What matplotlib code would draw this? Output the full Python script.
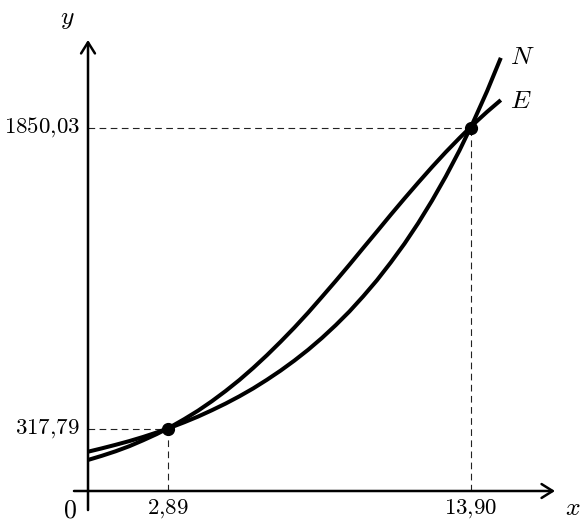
import numpy as np
import matplotlib
matplotlib.use("Agg")
import matplotlib.pyplot as plt

plt.rcParams['mathtext.fontset'] = 'cm'

# values
x_vals = [0, 0.5, 1, 1.5, 2, 2.5, 3, 3.5, 4, 4.5, 5, 5.5, 6, 6.5, 7, 7.5,
          8, 8.5, 9, 9.5, 10, 10.5, 11, 11.5, 12, 12.5, 13, 13.5, 14, 14.5, 15]
n_vals = [200, 217, 235, 254, 275, 298, 323, 350, 379, 411, 445, 482, 522, 566, 613, 664,
          719, 779, 844, 914, 991, 1073, 1163, 1259, 1364, 1478, 1601, 1734, 1879, 2035, 2205]
e_vals = [158, 179, 202, 228, 258, 290, 326, 366, 409, 457, 509, 565, 626, 691, 760, 832,
          908, 988, 1069, 1152, 1237, 1321, 1406, 1489, 1570, 1649, 1725, 1797, 1866, 1930, 1990]

cross_x = [2.89, 13.90]
cross_y = [317.79, 1850.03]
x_labels = ['2{,}89', '13{,}90']
y_labels = ['317{,}79', '1850{,}03']

fig = plt.figure(figsize=(5.84, 5.25), dpi=100)
ax = fig.add_axes([0, 0, 1, 1])
ax.set_xlim(-3.198, 18.023)
ax.set_ylim(-173.1, 2499.4)
ax.axis('off')

# axes with arrows
arrow = dict(arrowstyle='->,head_length=0.4,head_width=0.25', lw=1.8,
             color='black', shrinkA=0, shrinkB=0, mutation_scale=20)
ax.annotate('', xy=(16.97, 0), xytext=(-0.51, 0), arrowprops=arrow)
ax.annotate('', xy=(0, 2296), xytext=(0, -97), arrowprops=arrow)

# dashed guides
for cx, cy in zip(cross_x, cross_y):
    ax.plot([0, cx], [cy, cy], ls=(0, (6, 4)), lw=0.8, color='#222222')
    ax.plot([cx, cx], [0, cy], ls=(0, (6, 4)), lw=0.8, color='#222222')

ax.plot(x_vals, n_vals, color='black', lw=2.9, solid_capstyle='butt', solid_joinstyle='round')
ax.plot(x_vals, e_vals, color='black', lw=2.9, solid_capstyle='butt', solid_joinstyle='round')
ax.plot(cross_x, cross_y, 'o', color='black', ms=8.5)

fs = 16.5
for cx, lab in zip(cross_x, x_labels):
    ax.text(cx, -90, '$' + lab + '$', fontsize=fs, ha='center', va='center')
for cy, lab in zip(cross_y, y_labels):
    ax.text(-0.3, cy, '$' + lab + '$', fontsize=fs, ha='right', va='center')

ax.text(-0.65, -100, '$0$', fontsize=fs + 2, ha='center', va='center')
ax.text(17.6, -85, '$x$', fontsize=fs + 2, ha='center', va='center')
ax.text(-0.75, 2410, '$y$', fontsize=fs + 2, ha='center', va='center')
ax.text(15.35, 2210, '$N$', fontsize=fs + 2, ha='left', va='center')
ax.text(15.35, 1985, '$E$', fontsize=fs + 2, ha='left', va='center')

fig.savefig('out.png', dpi=100)
